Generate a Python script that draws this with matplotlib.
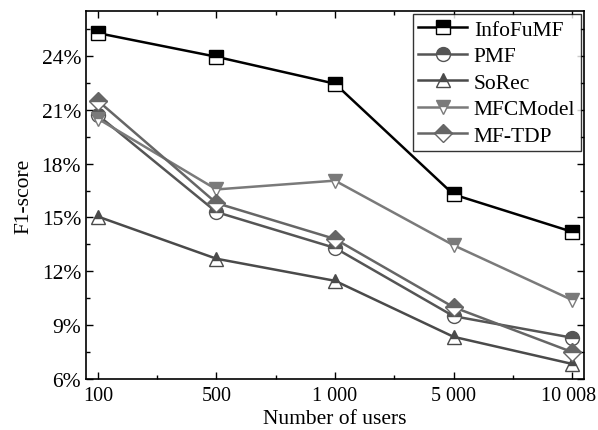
import matplotlib
matplotlib.use("Agg")
import matplotlib.pyplot as plt
import matplotlib.transforms as mtransforms
from matplotlib.ticker import MultipleLocator, FuncFormatter

plt.rcParams['font.family'] = ['Liberation Serif', 'DejaVu Serif']
plt.rcParams['mathtext.fontset'] = 'stix'

users = ["100", "500", "1 000", "5 000", "10 008"]
infofumf = [25.27, 23.95, 22.45, 16.28, 14.2]
pmf = [20.7, 15.3, 13.3, 9.5, 8.3]
sorec = [15.05, 12.7, 11.47, 8.35, 6.84]
mfcmodel = [20.5, 16.56, 17.05, 13.45, 10.4]
mftdp = [21.5, 15.8, 13.8, 10.0, 7.5]

series = [
    ("InfoFuMF", infofumf, "s", "#000000"),
    ("PMF", pmf, "o", "#555555"),
    ("SoRec", sorec, "^", "#4a4a4a"),
    ("MFCModel", mfcmodel, "v", "#7a7a7a"),
    ("MF-TDP", mftdp, "D", "#666666"),
]

fs = 15.5
fig = plt.figure(figsize=(5.98, 4.31), dpi=100)
ax = fig.add_axes([86/598, 1-380/431, (584-86)/598, (380-12)/431])

x = list(range(len(users)))
for name, vals, mk, col in series:
    ms = 10 if mk != "D" else 9
    ax.plot(x, vals, color=col, lw=1.8, marker=mk, markersize=ms,
            fillstyle='top', markerfacecolor=col, markerfacecoloralt='white',
            markeredgecolor=col, markeredgewidth=1.0, label=name)

ax.set_xlim(-0.1, 4.1)
ax.set_ylim(6, 26.5)
ax.set_xticks(x)
ax.set_xticklabels(users)
ax.xaxis.set_minor_locator(MultipleLocator(0.5))
ax.yaxis.set_major_locator(MultipleLocator(3))
ax.yaxis.set_minor_locator(MultipleLocator(1.5))
ax.yaxis.set_major_formatter(FuncFormatter(lambda v, p: f"{int(round(v))}%"))
ax.tick_params(which='both', direction='in', top=True, right=True, labelsize=fs)
ax.tick_params(axis='x', labelsize=14.5, pad=5)
ax.tick_params(which='major', length=5, width=1)
ax.tick_params(which='minor', length=3, width=1)
for s in ax.spines.values():
    s.set_linewidth(1.2)

# nudge the last x label slightly left so it stays inside the canvas
last = ax.get_xticklabels()[-1]
last.set_transform(last.get_transform() +
                   mtransforms.ScaledTranslation(-4/100, 0, fig.dpi_scale_trans))

ax.set_xlabel("Number of users", fontsize=fs, labelpad=3)
ax.set_ylabel("F1-score", fontsize=fs, labelpad=6)

leg = ax.legend(loc='upper right', fontsize=fs, frameon=True, fancybox=False,
                edgecolor='black', handlelength=2.3, borderpad=0.25,
                labelspacing=0.3, handletextpad=0.3, borderaxespad=0.15)
leg.get_frame().set_linewidth(1.0)

fig.savefig("out.png", dpi=100)
